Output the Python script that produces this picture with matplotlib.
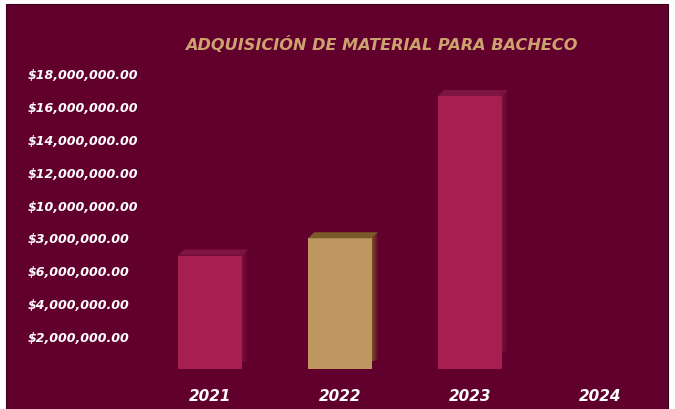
import numpy as np
import matplotlib
matplotlib.use("Agg")
import matplotlib.pyplot as plt
from matplotlib.patches import Polygon, Rectangle

# data
years = ["2021", "2022", "2023", "2024"]
amounts = [6.9e6, 7.95e6, 16.6e6, 0]
bar_colors = ["#A61F50", "#BE9760", "#A61F50", "#A61F50"]
top_colors = ["#7E1440", "#7A5A28", "#7E1440", "#7E1440"]
tick_vals = [2e6, 4e6, 6e6, 8e6, 10e6, 12e6, 14e6, 16e6, 18e6]
# the original chart labels the 8M tick as $3,000,000.00
tick_labels = ["$2,000,000.00", "$4,000,000.00", "$6,000,000.00", "$3,000,000.00",
               "$10,000,000.00", "$12,000,000.00", "$14,000,000.00",
               "$16,000,000.00", "$18,000,000.00"]

BG = "#62002D"
W, H = 675, 410

fig = plt.figure(figsize=(W / 100, H / 100), dpi=100, facecolor="white")
fig.patches.append(Rectangle((6 / W, 0), 662 / W, 1 - 5 / H, transform=fig.transFigure,
                             facecolor=BG, edgecolor="#3a0018", linewidth=0.8, zorder=-10))

# axes placed so that x=0 sits at px 210 and y=0 at px 370 from top
ax = fig.add_axes([160 / W, 40 / H, 500 / W, 310 / H])
ax.set_facecolor("none")
ax.set_xlim(-(210 - 160) / 130, 3 + (660 - 600) / 130)
ax.set_ylim(0, 18e6 * 310 / 296)

x = np.arange(len(years))
width = 0.49
ax.bar(x, amounts, width=width, color=bar_colors, zorder=3)

# fake 3D: top face and faded side face
dx = 6 / 130
dy = 6 * (18e6 / 296)
for xi, v, tc in zip(x, amounts, top_colors):
    if v <= 0:
        continue
    x0, x1 = xi - width / 2, xi + width / 2
    ax.add_patch(Polygon([(x0, v), (x1, v), (x1 + dx, v + dy), (x0 + dx, v + dy)],
                         closed=True, facecolor=tc, edgecolor="none", zorder=4))
    n = 6
    for k in range(n):
        a = k / n
        b = (k + 1) / n
        ax.add_patch(Polygon([(x1 + a * dx, v + a * dy), (x1 + b * dx, v + b * dy),
                              (x1 + b * dx, 0.06 * v + b * dy * 0.3), (x1 + a * dx, 0.06 * v)],
                             closed=True, facecolor=tc, alpha=0.9 * (1 - a),
                             edgecolor="none", zorder=2))

for s in ax.spines.values():
    s.set_visible(False)

ax.set_xticks(x, years)
ax.set_yticks(tick_vals, tick_labels)
ax.tick_params(length=0)
ax.tick_params(axis="x", pad=14, labelsize=11, labelcolor="white")
ax.tick_params(axis="y", pad=95, labelsize=9.1, labelcolor="white")
for lab in ax.get_yticklabels():
    lab.set_ha("left")
    lab.set_fontweight("bold")
    lab.set_fontstyle("italic")
for lab in ax.get_xticklabels():
    lab.set_fontweight("bold")
    lab.set_fontstyle("italic")

fig.text(381 / W, 1 - 44 / H, "ADQUISICIÓN DE MATERIAL PARA BACHECO",
         ha="center", va="center", color="#CCA36E", fontsize=11.6,
         fontweight="bold", fontstyle="italic")

fig.savefig("out.png", dpi=100, facecolor=fig.get_facecolor())
